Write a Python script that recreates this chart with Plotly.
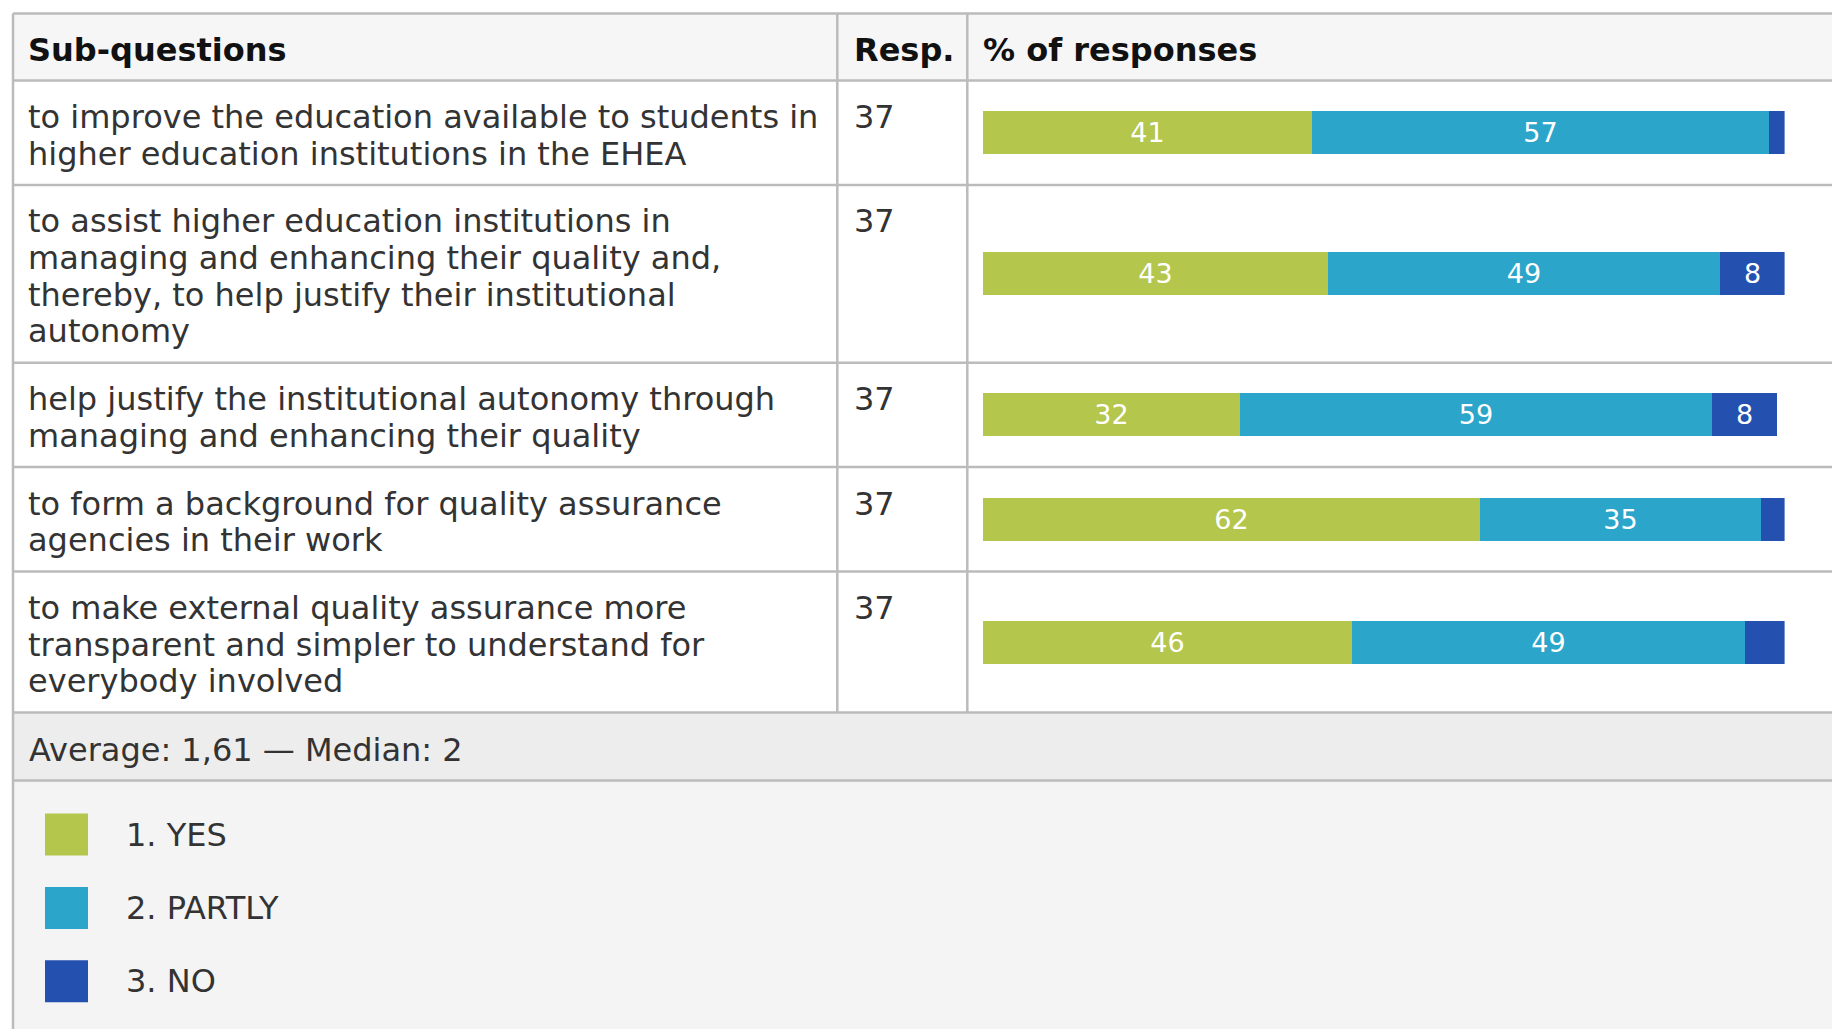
import plotly.graph_objects as go

# ---------------- data ----------------
header_labels = ["Sub-questions", "Resp.", "% of responses"]
sub_questions = [
    "to improve the education available to students in<br>higher education institutions in the EHEA",
    "to assist higher education institutions in<br>managing and enhancing their quality and,<br>thereby, to help justify their institutional<br>autonomy",
    "help justify the institutional autonomy through<br>managing and enhancing their quality",
    "to form a background for quality assurance<br>agencies in their work",
    "to make external quality assurance more<br>transparent and simpler to understand for<br>everybody involved",
]
responses = [37, 37, 37, 37, 37]
pct_yes = [41, 43, 32, 62, 46]
pct_partly = [57, 49, 59, 35, 49]
pct_no = [2, 8, 8, 3, 5]
answer_labels = ["1. YES", "2. PARTLY", "3. NO"]
answer_colors = ["#b4c64c", "#2ca5cb", "#2451b0"]
average = 1.61
median = 2

# ---------------- layout constants (pixels) ----------------
W, H = 1832, 1029
FONT = "DejaVu Sans"
FS = 32
LINE_H = 36.7
ROW_PAD = 31
TABLE_LEFT = 13
TABLE_TOP = 13.5
HEADER_H = 67
COL1, COL2 = 837.3, 967.3
BAR_X0, BAR_X1 = 983, 1784.6
BAR_H = 43
AVG_H = 68
BORDER = "#bbbbbb"
TEXT = "#333333"

fig = go.Figure()


def add_text(x, baseline, text, size=FS, color=TEXT):
    # centre the text box so that its baseline lands on `baseline`
    fig.add_annotation(
        x=x, y=baseline - 0.346 * size, xref="x", yref="y",
        text=text, showarrow=False, xanchor="left", yanchor="middle",
        font=dict(family=FONT, size=size, color=color),
    )


# row boundaries from the number of text lines
header_bottom = TABLE_TOP + HEADER_H
row_tops, row_bottoms = [], []
y = header_bottom
for q in sub_questions:
    n = len(q.split("<br>"))
    row_tops.append(y)
    y += ROW_PAD + LINE_H * n
    row_bottoms.append(y)
table_bottom = y
avg_bottom = table_bottom + AVG_H

# backgrounds
shapes = [
    dict(type="rect", x0=TABLE_LEFT, x1=W, y0=TABLE_TOP, y1=header_bottom,
         fillcolor="#f6f6f6", line_width=0, layer="below"),
    dict(type="rect", x0=TABLE_LEFT, x1=W, y0=table_bottom, y1=avg_bottom,
         fillcolor="#ededed", line_width=0, layer="below"),
    dict(type="rect", x0=TABLE_LEFT, x1=W, y0=avg_bottom, y1=H,
         fillcolor="#f4f4f4", line_width=0, layer="below"),
]
# grid lines
for yy in [TABLE_TOP, header_bottom] + row_bottoms + [avg_bottom]:
    shapes.append(dict(type="line", x0=TABLE_LEFT, x1=W, y0=yy, y1=yy,
                       line=dict(color=BORDER, width=2.5)))
shapes.append(dict(type="line", x0=TABLE_LEFT, x1=TABLE_LEFT, y0=TABLE_TOP, y1=H,
                   line=dict(color=BORDER, width=2.5)))
for xx in (COL1, COL2):
    shapes.append(dict(type="line", x0=xx, x1=xx, y0=TABLE_TOP, y1=table_bottom,
                       line=dict(color=BORDER, width=2.5)))

# header
header_x = [26, COL1 + 15, COL2 + 14]
for hx, lab in zip(header_x, header_labels):
    add_text(hx, TABLE_TOP + 47.5, "<b>" + lab + "</b>", color="#111111")

# row texts
for top, q, r in zip(row_tops, sub_questions, responses):
    for i, line in enumerate(q.split("<br>")):
        add_text(26, top + 47.5 + i * LINE_H, line)
    add_text(COL1 + 15, top + 47.5, str(r))

# stacked bars
centers = [(t + b) / 2 for t, b in zip(row_tops, row_bottoms)]
for vals, name, col in zip([pct_yes, pct_partly, pct_no], answer_labels, answer_colors):
    fig.add_trace(go.Bar(
        x=vals, y=centers, orientation="h", name=name,
        width=[BAR_H] * len(vals), marker=dict(color=col, line_width=0),
        text=[str(v) if v >= 6 else "" for v in vals],
        textposition="inside", insidetextanchor="middle", textangle=0,
        textfont=dict(family=FONT, size=27, color="white"),
        xaxis="x2", yaxis="y", hoverinfo="skip", showlegend=False,
    ))

# summary row
avg_txt = f"{average:.2f}".replace(".", ",")
add_text(27, table_bottom + 48, f"Average: {avg_txt} — Median: {median}")

# legend
for i, (lab, col) in enumerate(zip(answer_labels, answer_colors)):
    top = avg_bottom + 33 + i * 73.3
    shapes.append(dict(type="rect", x0=45, x1=88, y0=top, y1=top + 42,
                       fillcolor=col, line_width=0))
    add_text(124, top + 32, lab)

fig.update_layout(
    width=W, height=H, margin=dict(l=0, r=0, t=0, b=0),
    paper_bgcolor="white", plot_bgcolor="rgba(0,0,0,0)",
    barmode="stack", bargap=0, shapes=shapes, showlegend=False,
    xaxis=dict(range=[0, W], domain=[0, 1], visible=False, fixedrange=True),
    xaxis2=dict(range=[0, 100], domain=[BAR_X0 / W, BAR_X1 / W], anchor="y",
                visible=False, fixedrange=True),
    yaxis=dict(range=[H, 0], domain=[0, 1], visible=False, fixedrange=True),
)

fig.write_html("out.html")
